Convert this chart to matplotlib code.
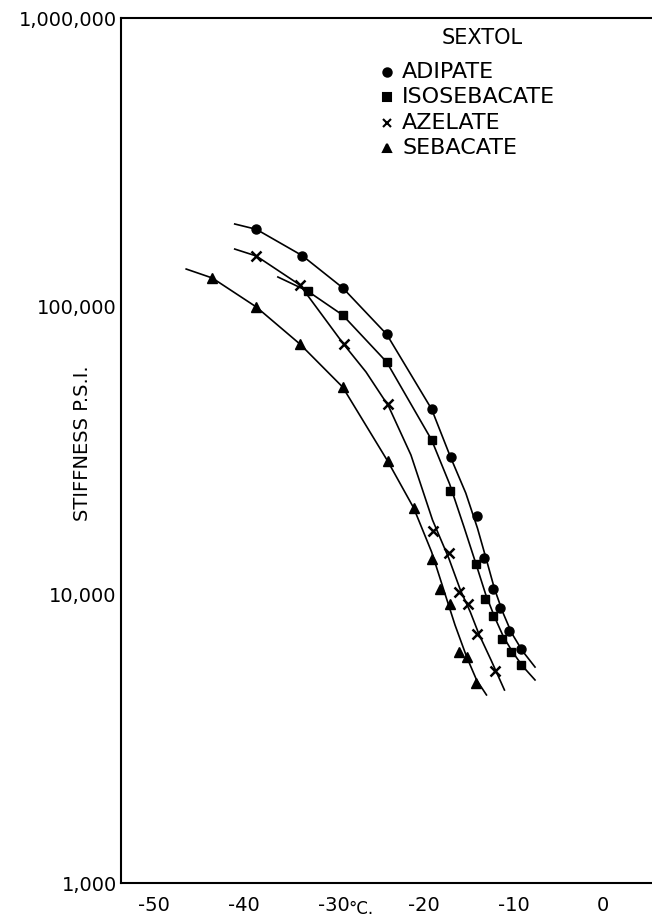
import matplotlib
matplotlib.use("Agg")
import matplotlib.pyplot as plt
from matplotlib.lines import Line2D

# measured points, temperature in deg C and stiffness in psi
adipate_t = [-38.6, -33.5, -29.0, -24.1, -19.1, -17.0, -14.1, -13.3, -12.3, -11.5, -10.5, -9.2]
adipate_s = [185000, 150000, 116000, 80000, 44000, 30000, 18700, 13400, 10500, 9000, 7500, 6500]

isoseb_t = [-32.9, -29.0, -24.1, -19.1, -17.1, -14.2, -13.2, -12.3, -11.3, -10.3, -9.2]
isoseb_s = [113000, 93300, 64100, 34400, 22900, 12800, 9660, 8430, 7020, 6330, 5700]

azelate_t = [-38.6, -33.75, -28.9, -23.9, -19.0, -17.2, -16.1, -15.1, -14.1, -12.1]
azelate_s = [149500, 118600, 74000, 45800, 16600, 13900, 10200, 9280, 7300, 5440]

sebacate_t = [-43.5, -38.6, -33.75, -29.0, -24.0, -21.1, -19.1, -18.2, -17.1, -16.1, -15.2, -14.2]
sebacate_s = [125400, 99500, 74000, 52500, 29100, 20000, 13300, 10500, 9280, 6330, 6080, 4950]

# hand drawn curves
adipate_ct = [-41.0, -38.6, -33.5, -29.0, -24.1, -19.1, -17.0, -15.3, -14.0, -13.0, -12.1, -11.2, -10.2, -9.0, -7.6]
adipate_cs = [193000, 185000, 150000, 116000, 80000, 44000, 30000, 22500, 17000, 13200, 10460, 8710, 7360, 6380, 5610]

isoseb_ct = [-36.2, -32.9, -29.0, -24.1, -19.1, -17.1, -15.5, -14.2, -13.1, -12.1, -11.1, -10.1, -9.0, -7.6]
isoseb_cs = [126400, 113000, 93300, 64100, 34400, 24200, 17170, 12880, 10050, 8370, 7130, 6330, 5660, 5060]

azelate_ct = [-41.0, -38.6, -33.75, -28.9, -26.4, -23.9, -21.4, -19.0, -17.2, -15.9, -14.8, -13.85, -12.5, -11.0]
azelate_cs = [158000, 149500, 118600, 74000, 59200, 45100, 30500, 18150, 13400, 10380, 8710, 7310, 5940, 4670]

sebacate_ct = [-46.4, -43.5, -38.6, -33.75, -29.0, -24.0, -21.1, -19.1, -17.75, -16.5, -15.2, -14.1, -13.0]
sebacate_cs = [134700, 125400, 99500, 74000, 52500, 29100, 20000, 14060, 10380, 7850, 6080, 5060, 4490]

x_ticks = [-50, -40, -30, -20, -10, 0]
y_ticks = [1000, 10000, 100000, 1000000]
y_labels = ["1,000", "10,000", "100,000", "1,000,000"]
names = ["ADIPATE", "ISOSEBACATE", "AZELATE", "SEBACATE"]

W, H = 652, 921
fig = plt.figure(figsize=(W / 100, H / 100), dpi=100)
ax = fig.add_axes([121 / W, (H - 883) / H, 530 / W, 865 / H])

ax.plot(adipate_ct, adipate_cs, color="black", lw=1.2)
ax.plot(isoseb_ct, isoseb_cs, color="black", lw=1.2)
ax.plot(azelate_ct, azelate_cs, color="black", lw=1.2)
ax.plot(sebacate_ct, sebacate_cs, color="black", lw=1.2)

ax.plot(adipate_t, adipate_s, "o", color="black", ms=6.5)
ax.plot(isoseb_t, isoseb_s, "s", color="black", ms=5.5)
ax.plot(azelate_t, azelate_s, "x", color="black", ms=6.5, mew=1.8)
ax.plot(sebacate_t, sebacate_s, "^", color="black", ms=6.5)

ax.set_yscale("log")
ax.set_xlim(-53.65, 5.3)
ax.set_ylim(1000, 1000000)
ax.set_xticks(x_ticks)
ax.set_xticklabels([str(t) for t in x_ticks])
ax.set_yticks(y_ticks)
ax.set_yticklabels(y_labels)
ax.minorticks_off()
ax.tick_params(axis="both", length=0, labelsize=14)
ax.tick_params(axis="x", pad=9)
ax.tick_params(axis="y", pad=3)

for s in ["left", "top", "bottom"]:
    ax.spines[s].set_linewidth(1.5)
ax.spines["right"].set_visible(False)

fig.text(82 / W, 1 - 443 / H, "STIFFNESS P.S.I.", fontsize=14, rotation=90,
         ha="center", va="center")

fig.text(348 / W, 1 - 914 / H, "°C.", fontsize=12, ha="left", va="baseline")

# legend drawn by hand like the original
fig.text(482 / W, 1 - 38 / H, "SEXTOL", fontsize=15, ha="center", va="center")
rows = [72, 97, 123, 148]
marks = [("o", 6), ("s", 5.5), ("x", 5.5), ("^", 6)]
for y, (m, size), name in zip(rows, marks, names):
    fig.add_artist(Line2D([387 / W], [1 - y / H], marker=m, ms=size, color="black",
                          mew=1.5, linestyle="none", transform=fig.transFigure))
    fig.text(402 / W, 1 - y / H, name, fontsize=16, ha="left", va="center")

fig.savefig("out.png", dpi=100)
